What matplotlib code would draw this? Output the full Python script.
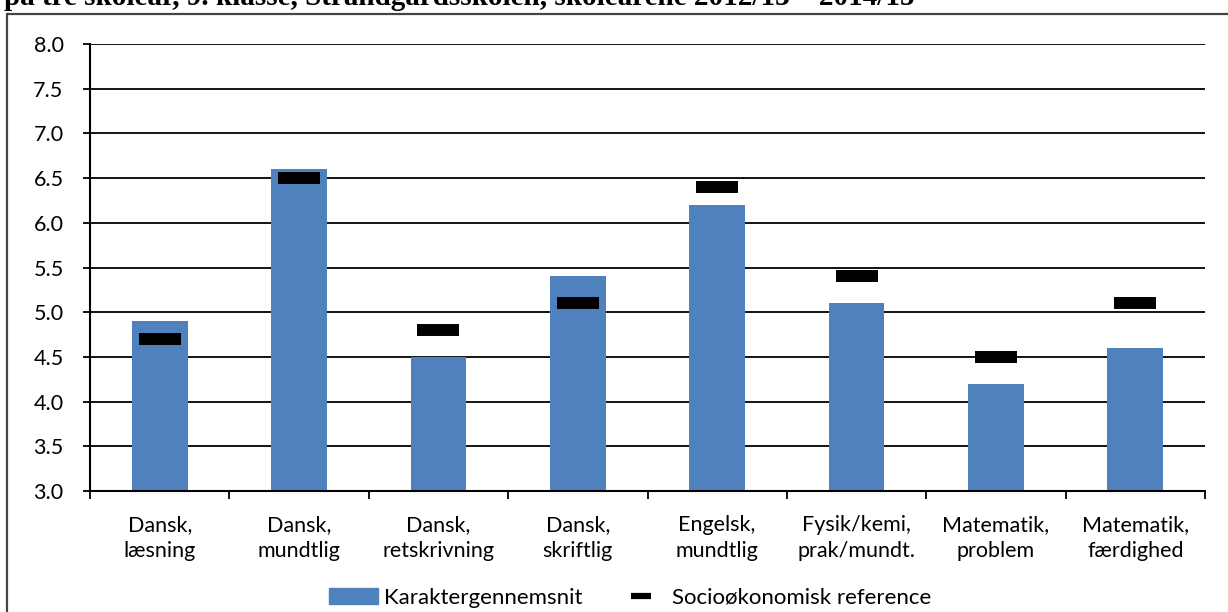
import matplotlib.pyplot as plt
from matplotlib.patches import Rectangle
from matplotlib.lines import Line2D
import numpy as np

categories = ["Dansk,\nlæsning", "Dansk,\nmundtlig", "Dansk,\nretskrivning", "Dansk,\nskriftlig",
              "Engelsk,\nmundtlig", "Fysik/kemi,\nprak/mundt.", "Matematik,\nproblem", "Matematik,\nfærdighed"]
karakter = [4.9, 6.6, 4.5, 5.4, 6.2, 5.1, 4.2, 4.6]
reference = [4.7, 6.5, 4.8, 5.1, 6.4, 5.4, 4.5, 5.1]

plt.rcParams['font.family'] = ['Lato', 'DejaVu Sans']

fig = plt.figure(figsize=(12.28, 6.12), dpi=100)
ax = fig.add_axes([90 / 1228, 1 - 491 / 612, 1115 / 1228, 447 / 612])

x = np.arange(len(categories))
ax.bar(x, np.array(karakter) - 3.0, bottom=3.0, width=0.4, color='#4F81BD', zorder=2)
ax.scatter(x, reference, marker='_', s=910, linewidths=8.6, color='black', zorder=3)

ax.set_xlim(-0.5, len(categories) - 0.5)
ax.set_ylim(3.0, 8.0)
ax.set_yticks(np.arange(3.0, 8.01, 0.5))
ax.set_yticklabels([f"{v:.1f}" for v in np.arange(3.0, 8.01, 0.5)], fontsize=15.5)
ax.yaxis.grid(True, color='black', linewidth=1.3, zorder=0)
ax.set_axisbelow(True)

ax.set_xticks(np.arange(-0.5, len(categories), 1.0))
ax.set_xticklabels([])
ax.set_xticks(x, minor=True)
ax.set_xticklabels(categories, minor=True, fontsize=15.5, linespacing=1.4)
ax.tick_params(axis='x', which='minor', length=0, pad=17)
ax.tick_params(axis='x', which='major', length=6, width=1.3, direction='out')
ax.tick_params(axis='y', length=5, width=1.3, pad=14)

for s in ['top', 'right']:
    ax.spines[s].set_visible(False)
for s in ['left', 'bottom']:
    ax.spines[s].set_linewidth(1.5)

# outer chart frame
fig.patches.append(Rectangle((7 / 1228, -0.05), 1.1, 1 - 14 / 612 + 0.05, transform=fig.transFigure,
                             fill=False, edgecolor='#444444', linewidth=1.6))

# cropped title
fig.text(4 / 1228, 1 - 5 / 612, "på tre skoleår, 9. klasse, Strandgårdsskolen, skoleårene 2012/13 – 2014/15",
         fontsize=21, fontweight='bold', family='Liberation Serif', va='baseline', ha='left')

handles = [Rectangle((0, 0), 1, 1, color='#4F81BD'),
           Line2D([], [], color='black', marker='_', markersize=15, markeredgewidth=4.5, linestyle='none')]
fig.legend(handles, ["Karaktergennemsnit", "Socioøkonomisk reference"], loc='center',
           bbox_to_anchor=(630 / 1228, 1 - 598 / 612), ncol=2, frameon=False, fontsize=16,
           handlelength=2.2, handleheight=0.75, handletextpad=0.3, columnspacing=1.5)

fig.savefig("out.png", dpi=100)
